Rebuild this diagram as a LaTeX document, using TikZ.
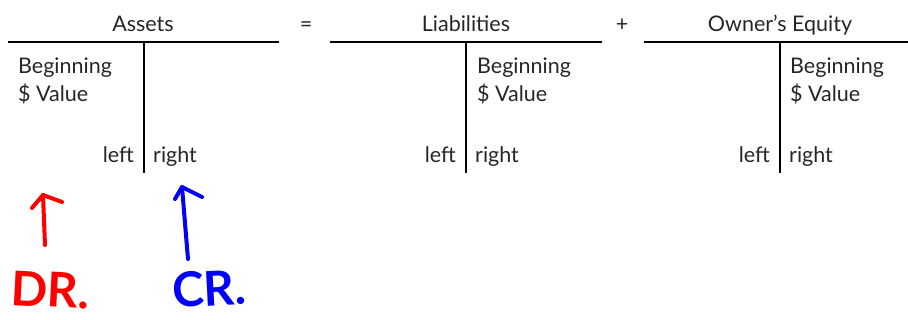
\documentclass[tikz,border=0pt]{standalone}
\usepackage{fontspec}
\setmainfont{Lato}
\usetikzlibrary{calc}
\begin{document}
\begin{tikzpicture}[x=1pt,y=-1pt,
  lbl/.style={font=\fontsize{21.5}{24}\selectfont, text=black!85, inner sep=0pt},
  tline/.style={line width=1.3pt, black},
  hand/.style={line width=4pt, line cap=round, line join=round},
  handtxt/.style={font=\fontsize{48}{52}\selectfont\bfseries, inner sep=0pt}
]
\useasboundingbox (0,0) rectangle (908,320);

% ---------- Assets ----------
\coordinate (aL) at (8,42);
\coordinate (aR) at (279,42);
\coordinate (aT) at (144,42);
\coordinate (aB) at (144,173);
\draw[tline] (aL) -- (aR);
\draw[tline] (aT) -- (aB);
\node[lbl, anchor=base] (atitle) at (143,32) {Assets};
\node[lbl, anchor=base west] (abeg) at (18,74) {Beginning};
\node[lbl, anchor=base west] (aval) at (18,102) {\$ Value};
\node[lbl, anchor=base east] (aleft) at (134,163) {left};
\node[lbl, anchor=base west] (aright) at (153,163) {right};

\node[lbl, anchor=base] (eq) at (306,32) {=};

% ---------- Liabilities ----------
\coordinate (lL) at (330,42);
\coordinate (lR) at (602,42);
\coordinate (lT) at (466,42);
\coordinate (lB) at (466,173);
\draw[tline] (lL) -- (lR);
\draw[tline] (lT) -- (lB);
\node[lbl, anchor=base] (ltitle) at (466,32) {Liabilities};
\node[lbl, anchor=base west] (lbeg) at (477,74) {Beginning};
\node[lbl, anchor=base west] (lval) at (477,102) {\$ Value};
\node[lbl, anchor=base east] (lleft) at (456,163) {left};
\node[lbl, anchor=base west] (lright) at (475,163) {right};

\node[lbl, anchor=base] (plus) at (622,32) {+};

% ---------- Owner's Equity ----------
\coordinate (oL) at (644,42);
\coordinate (oR) at (908,42);
\coordinate (oT) at (780,42);
\coordinate (oB) at (780,173);
\draw[tline] (oL) -- (oR);
\draw[tline] (oT) -- (oB);
\node[lbl, anchor=base] (otitle) at (780,32) {Owner’s Equity};
\node[lbl, anchor=base west] (obeg) at (790,74) {Beginning};
\node[lbl, anchor=base west] (oval) at (790,102) {\$ Value};
\node[lbl, anchor=base east] (oleft) at (770,163) {left};
\node[lbl, anchor=base west] (oright) at (789,163) {right};

% ---------- handwritten annotations ----------
\coordinate (drtail) at (45,245);
\coordinate (drtip) at (43,195);
\draw[hand, red] (drtail) -- (drtip);
\draw[hand, red] (32,208) -- (drtip) -- (62,202);
\node[handtxt, red, anchor=base west, rotate=-3] (dr) at (10,305) {DR.};

\coordinate (crtail) at (188,259);
\coordinate (crtip) at (182,187);
\draw[hand, blue] (crtail) -- (crtip);
\draw[hand, blue] (175,199) -- (crtip) -- (202,197);
\node[handtxt, blue, anchor=base west, rotate=3] (cr) at (173,308) {CR.};
\end{tikzpicture}
\end{document}
